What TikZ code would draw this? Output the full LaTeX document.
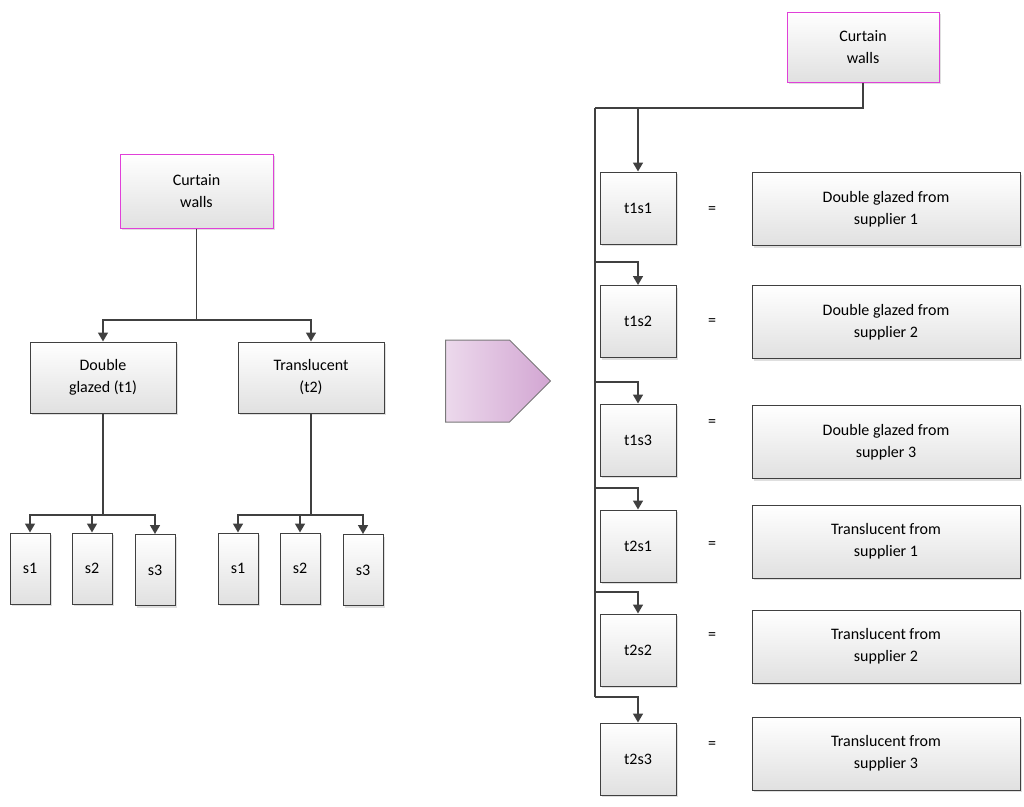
\documentclass[tikz,border=0pt]{standalone}
\usepackage{fontspec}
\setmainfont{Carlito}
\usetikzlibrary{arrows.meta,shadows,shapes.arrows}
\definecolor{edge}{HTML}{404040}
\definecolor{pink}{HTML}{E040D8}
\tikzset{
  % For the plain boxes.
  box/.style={
    draw=edge,
    line width=1pt,
    top color=white,
    bottom color=black!12,
    drop shadow={shadow xshift=2pt, shadow yshift=-2pt, opacity=0.25},
    align=center,
    font=\fontsize{16}{22}\selectfont,
    inner sep=0pt},
%
  % For the top boxes.
  root/.style={
    box,
    draw=pink},
%
  % For connectors.
  link/.style={
    draw=edge,
    line width=1.6pt},
  arrow/.style={
    link,
    -{Triangle[length=9pt,width=10pt]}},
%
  eq/.style={
    font=\fontsize{16}{22}\selectfont},
}
\begin{document}
\begin{tikzpicture}[x=1pt,y=-1pt]
  \useasboundingbox (0,0) rectangle (1024,806);

  % left tree
  \node[root, minimum width=153, minimum height=74] (cw) at (196.5,191) {Curtain\\walls};
  \node[box, minimum width=146, minimum height=71] (t1) at (103,377.5) {Double\\glazed (t1)};
  \node[box, minimum width=146, minimum height=71] (t2) at (311,377.5) {Translucent\\(t2)};

  \foreach \name/\x/\y/\lab in {a1/30/568.5/s1, a2/92/568.5/s2, a3/155/570/s3,
                                b1/238/568.5/s1, b2/300/568.5/s2, b3/363/570/s3}
    \node[box, minimum width=40, minimum height=71] (\name) at (\x,\y) {\lab};

  \coordinate (j0) at (196.5,320);
  \draw[link] (cw) -- (j0);
  \draw[arrow] (j0) -| (t1);
  \draw[arrow] (j0) -| (t2);

  \coordinate (ja) at (103,515);
  \draw[link] (t1) -- (ja);
  \foreach \n in {a1,a2,a3}
    \draw[arrow] (ja) -| (\n.north);

  \coordinate (jb) at (311,515);
  \draw[link] (t2) -- (jb);
  \foreach \n in {b1,b2,b3}
    \draw[arrow] (jb) -| (\n.north);

  % big arrow
  \node[single arrow, draw=edge!70, line width=1pt,
        left color=violet!15, right color=violet!35,
        minimum height=105, minimum width=82, single arrow head extend=0pt,
        single arrow tip angle=90, inner sep=0pt] (big) at (477.5,381) {};

  % right list
  \node[root, minimum width=152, minimum height=70] (cw2) at (863,47) {Curtain\\walls};
  \coordinate (top) at (595,108);
  \draw[link] (cw2) |- (top);

  \foreach \name/\y/\ey/\by/\jy/\txt in {
      t1s1/208/210/209/108/{Double glazed from\\supplier 1},
      t1s2/321.5/322/322/262/{Double glazed from\\supplier 2},
      t1s3/440/423/442/382/{Double glazed from\\suppler 3},
      t2s1/546/545/541.5/488/{Translucent from\\supplier 1},
      t2s2/650/636/646.5/592/{Translucent from\\supplier 2},
      t2s3/759/745/753.5/697/{Translucent from\\supplier 3}} {
    \node[box, minimum width=76, minimum height=72] (\name) at (638,\y) {\name};
    \node[eq] (e\name) at (712,\ey) {=};
    \node[box, minimum width=268, minimum height=73] (d\name) at (886,\by) {\txt};
    \coordinate (j\name) at (595,\jy);
    \draw[arrow] (j\name) -| (\name.north);
  }
  \draw[link] (top) -- (jt2s3);
\end{tikzpicture}
\end{document}
